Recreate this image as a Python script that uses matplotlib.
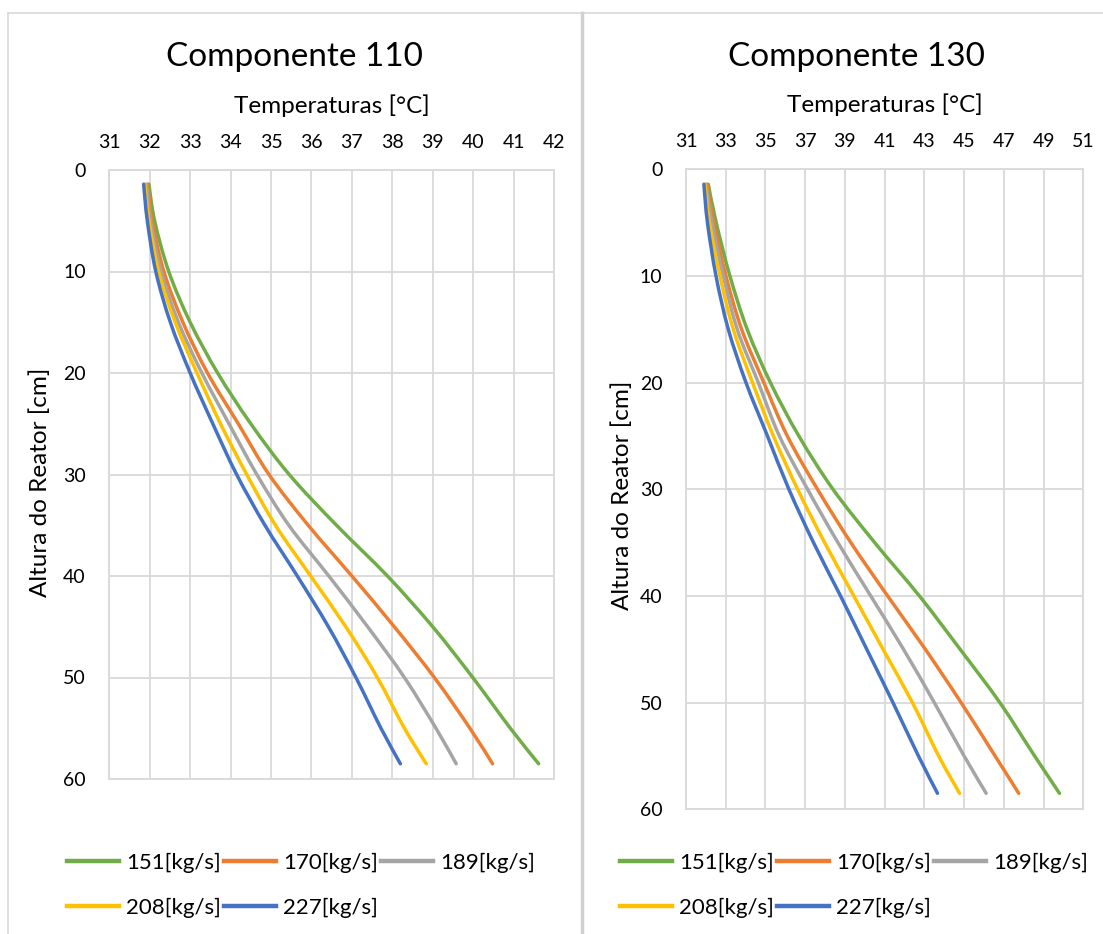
import numpy as np
import matplotlib
matplotlib.use("Agg")
import matplotlib.pyplot as plt
from matplotlib.lines import Line2D
from matplotlib.path import Path
from matplotlib.patches import PathPatch

plt.rcParams['font.family'] = ['Lato', 'DejaVu Sans']

# Heights [cm] where the curves were read
heights = [1.4, 5, 10, 15, 20, 25, 30, 35, 40, 45, 50, 55, 58.5]

series_names = ['151[kg/s]', '170[kg/s]', '189[kg/s]', '208[kg/s]', '227[kg/s]']
colors = ['#70AD47', '#ED7D31', '#A5A5A5', '#FFC000', '#4472C4']

# Componente 110 temperatures [°C]
c110_151 = [31.98, 32.12, 32.47, 33.00, 33.68, 34.50, 35.45, 36.62, 37.88, 39.00, 39.99, 40.92, 41.62]
c110_170 = [31.95, 32.06, 32.35, 32.82, 33.43, 34.19, 34.95, 35.92, 37.00, 38.05, 39.04, 39.92, 40.48]
c110_189 = [31.92, 32.02, 32.28, 32.71, 33.29, 33.96, 34.65, 35.44, 36.43, 37.39, 38.30, 39.08, 39.58]
c110_208 = [31.88, 31.98, 32.22, 32.63, 33.17, 33.75, 34.40, 35.11, 35.98, 36.85, 37.63, 38.30, 38.84]
c110_227 = [31.85, 31.94, 32.15, 32.51, 33.00, 33.56, 34.15, 34.85, 35.65, 36.42, 37.10, 37.72, 38.20]

# Componente 130 temperatures [°C]
c130_151 = [32.12, 32.52, 33.21, 34.08, 35.25, 36.68, 38.40, 40.50, 42.75, 44.80, 46.80, 48.55, 49.80]
c130_170 = [32.05, 32.40, 33.01, 33.80, 34.92, 36.10, 37.62, 39.30, 41.15, 43.05, 44.85, 46.56, 47.75]
c130_189 = [32.00, 32.30, 32.88, 33.58, 34.64, 35.70, 37.12, 38.65, 40.30, 41.95, 43.50, 45.00, 46.11]
c130_208 = [31.95, 32.18, 32.71, 33.38, 34.35, 35.40, 36.62, 37.98, 39.45, 40.92, 42.40, 43.72, 44.77]
c130_227 = [31.90, 32.08, 32.51, 33.13, 34.02, 35.10, 36.18, 37.42, 38.78, 40.10, 41.42, 42.70, 43.66]

W, H = 1103, 934
fig = plt.figure(figsize=(W / 100, H / 100), dpi=100)
grid_c = '#d9d9d9'


def fx(px):
    return px / W


def fy(py):
    return 1 - py / H


def smooth_path(xs, ys):
    # Excel-style smoothed line: bezier segments through the read points
    p = np.column_stack([xs, ys]).astype(float)
    verts = [p[0]]
    codes = [Path.MOVETO]
    n = len(p)
    for i in range(n - 1):
        p0 = p[i - 1] if i > 0 else p[i]
        p3 = p[i + 2] if i + 2 < n else p[i + 1]
        c1 = p[i] + (p[i + 1] - p0) / 6
        c2 = p[i + 1] - (p3 - p[i]) / 6
        verts += [c1, c2, p[i + 1]]
        codes += [Path.CURVE4] * 3
    return Path(verts, codes)


# chart area borders
fig.add_artist(Line2D([fx(7.5), fx(7.5)], [fy(12.5), 0], color=grid_c, lw=1.2))
fig.add_artist(Line2D([fx(7.5), 1], [fy(12.5), fy(12.5)], color=grid_c, lw=1.2))
fig.add_artist(Line2D([fx(582), fx(582)], [fy(12.5), 0], color='#d0d0d0', lw=2.5))


def draw_panel(rect, data, xmin, xmax, xstep, title, title_x, ylab_x, ylab_y, leg_x):
    ax = fig.add_axes(rect)
    handles = []
    for vals, name, c in zip(data, series_names, colors):
        ax.add_patch(PathPatch(smooth_path(vals, heights), fill=False, edgecolor=c,
                               lw=2.5, capstyle='round', joinstyle='round'))
        handles.append(Line2D([], [], color=c, lw=3.2))
    ax.set_xlim(xmin, xmax)
    ax.set_ylim(60, 0)
    ax.set_xticks(np.arange(xmin, xmax + 0.1, xstep))
    ax.set_yticks(np.arange(0, 61, 10))
    ax.xaxis.tick_top()
    ax.xaxis.set_label_position('top')
    ax.tick_params(length=0, labelsize=14, labelcolor='black', pad=14)
    ax.tick_params(axis='y', pad=17)
    ax.grid(True, color=grid_c, lw=1.3)
    ax.set_axisbelow(True)
    for s in ax.spines.values():
        s.set_color(grid_c)
        s.set_linewidth(1.3)
    ax.set_xlabel('Temperaturas [°C]', fontsize=17.5, labelpad=15)
    fig.text(fx(title_x), fy(57), title, fontsize=24, ha='center', va='center')
    fig.text(fx(ylab_x), fy(ylab_y), 'Altura do Reator [cm]', fontsize=17.5,
             rotation=90, ha='center', va='center')

    order = [0, 3, 1, 4, 2]
    fig.legend([handles[i] for i in order], [series_names[i] for i in order],
               loc='upper left', bbox_to_anchor=(fx(leg_x), fy(853)),
               ncol=3, frameon=False, fontsize=16, handlelength=2.35,
               handletextpad=0.32, columnspacing=0.12, labelspacing=1.1,
               borderaxespad=0, borderpad=0)
    return ax


draw_panel([fx(109.3), fy(779), fx(554) - fx(109.3), fy(170) - fy(779)],
           [c110_151, c110_170, c110_189, c110_208, c110_227],
           31, 42, 1, 'Componente 110', 294, 40, 482, 67)

draw_panel([fx(686), fy(809.3), fx(1083.3) - fx(686), fy(169.3) - fy(809.3)],
           [c130_151, c130_170, c130_189, c130_208, c130_227],
           31, 51, 2, 'Componente 130', 856, 622, 495, 620)

fig.savefig('out.png', dpi=100)
